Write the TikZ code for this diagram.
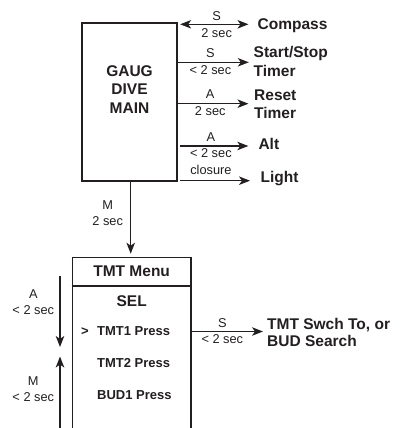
\documentclass[tikz,border=0pt]{standalone}
\usepackage{fontspec}
\setmainfont{Liberation Sans}
\usetikzlibrary{arrows.meta}
\definecolor{ink}{RGB}{35,31,32}
\begin{document}
\begin{tikzpicture}[x=1pt,y=-1pt,
  mytip/.tip={Stealth[length=11pt,width=8.5pt,inset=3pt]},
  every node/.style={text=ink},
  arr/.style={draw=ink,line width=1.15pt,-mytip},
  darr/.style={draw=ink,line width=1.15pt,mytip-mytip},
  boxst/.style={draw=ink,line width=1.3pt,rectangle,inner sep=0pt},
  big/.style={font=\fontsize{15.5}{18.5}\selectfont\bfseries,inner sep=0pt},
  item/.style={font=\fontsize{13}{15}\selectfont\bfseries,inner sep=0pt},
  lab/.style={font=\fontsize{12.8}{14}\selectfont,inner sep=0pt,text height=8.8pt,text depth=0pt},
]
\useasboundingbox (0,0) rectangle (399,428);
\begin{scope}
\clip (0,0) rectangle (399,428);

% main box
\node[boxst,minimum width=95pt,minimum height=158pt] (main) at (129.5,102) {};
\node[big,align=center] (maintxt) at (129.5,89.5) {GAUG\\DIVE\\MAIN};

% right targets
\node[big,anchor=base west] (compass) at (257.5,30) {Compass};
\node[big,align=left,anchor=west] (startstop) at (253.5,61.7) {Start/Stop\\Timer};
\node[big,align=left,anchor=west] (reset) at (254,104.3) {Reset\\Timer};
\node[big,anchor=base west] (alt) at (258.3,149.3) {Alt};
\node[big,anchor=base west] (light) at (260.5,182.5) {Light};

\coordinate (t1) at (248.5,24.3);
\coordinate (t2) at (248.8,62.3);
\coordinate (t3) at (248.5,103.7);
\coordinate (t4) at (248.3,146);
\coordinate (t5) at (250,180.7);

\draw[darr,shorten <=2.5pt] (main.east |- t1) -- node[lab,above=3.6pt,pos=0.55]{S} node[lab,below=3.6pt,pos=0.55]{2 sec} (t1);
\draw[arr] (main.east |- t2) -- node[lab,above=4pt,pos=0.46]{S} node[lab,below=3pt,pos=0.46]{< 2 sec} (t2);
\draw[arr] (main.east |- t3) -- node[lab,above=4.4pt,pos=0.46]{A} node[lab,below=2.2pt,pos=0.46]{2 sec} (t3);
\draw[arr,shorten <=2.3pt] (main.east |- t4) -- node[lab,above=4.3pt,pos=0.47]{A} node[lab,below=2.2pt,pos=0.47]{< 2 sec} (t4);
\draw[arr,shorten <=2.3pt] (main.east |- t5) -- node[lab,above=5.5pt,pos=0.46]{closure} (t5);

% TMT menu box
\node[boxst,minimum width=118.7pt,minimum height=200pt,anchor=north] (tmt) at (131.65,256.7) {};
\draw[draw=ink,line width=1.3pt] (tmt.west |- 0,286) -- (tmt.east |- 0,286);
\node[big,anchor=base] (tmthdr) at (131.65,276.3) {TMT Menu};
\node[big,anchor=base] (sel) at (131.65,306) {SEL};
\node[item,anchor=base] (cursor) at (85,335.7) {>};
\node[item,anchor=base west] (tmt1) at (97,335.7) {TMT1 Press};
\node[item,anchor=base west] (tmt2) at (97,367.5) {TMT2 Press};
\node[item,anchor=base west] (bud1) at (97,399.3) {BUD1 Press};

% main -> TMT menu
\coordinate (dn) at (130.7,0);
\draw[arr,shorten >=3pt] (main.south -| dn) -- (tmt.north -| dn);
\node[lab,anchor=base] (mlab) at (107.7,209) {M};
\node[lab,anchor=base] (mtime) at (107.7,225) {2 sec};

% TMT -> swch
\node[big,align=left,anchor=west,font=\fontsize{15.5}{17.5}\selectfont\bfseries] (swch) at (267,332.7) {TMT Swch To, or\\BUD Search};
\coordinate (t6) at (263,331.5);
\draw[arr] (tmt.east |- t6) -- node[lab,above=3pt,pos=0.43]{S} node[lab,below=3pt,pos=0.43]{< 2 sec} (t6);

% left scroll arrows
\coordinate (a1) at (60,276);
\coordinate (a1e) at (60,347);
\draw[arr] (a1) -- (a1e);
\node[lab,anchor=base] (alab) at (33.3,298.3) {A};
\node[lab,anchor=base] (atime) at (33.3,314) {< 2 sec};
\coordinate (m1) at (60,440);
\coordinate (m1e) at (60,356.5);
\draw[arr] (m1) -- (m1e);
\node[lab,anchor=base] (mlab2) at (33.3,385.5) {M};
\node[lab,anchor=base] (mtime2) at (33.3,401) {< 2 sec};
\end{scope}
\end{tikzpicture}
\end{document}
